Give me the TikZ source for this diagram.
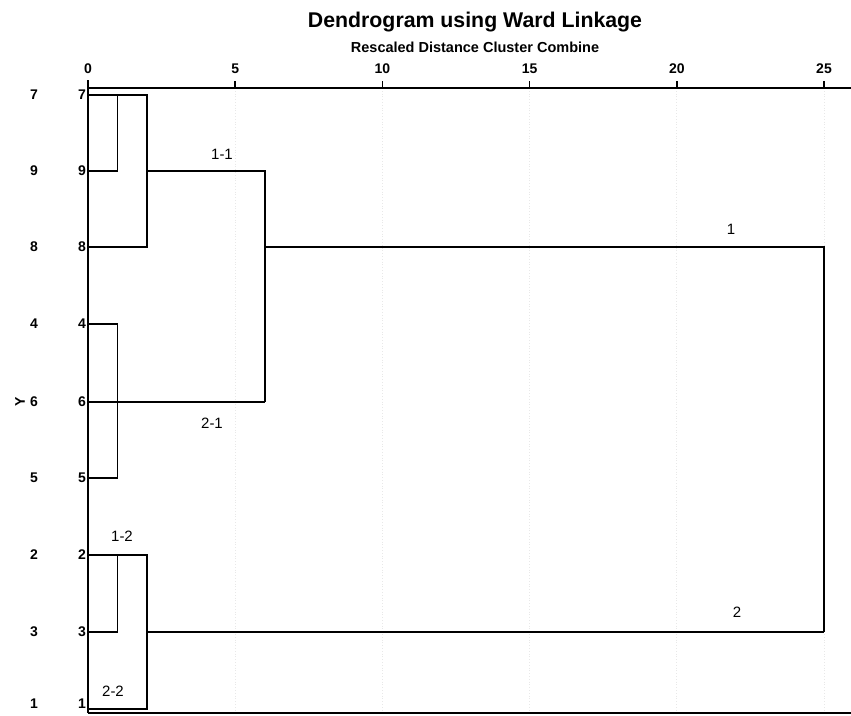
\documentclass[tikz,border=0pt]{standalone}
\usepackage{fontspec}
\setmainfont{Liberation Sans}
\begin{document}
\begin{tikzpicture}[x=1pt,y=-1pt,
  dline/.style={line width=1.8pt,line join=miter},
  axisline/.style={line width=1.5pt},
  grid/.style={gray!18,line width=0.8pt,dotted},
  leaflab/.style={font=\fontsize{14}{16}\selectfont\bfseries,inner sep=1pt},
  ticklab/.style={font=\fontsize{14}{16}\selectfont\bfseries,inner sep=1pt},
  clab/.style={font=\fontsize{15}{17}\selectfont,inner sep=1pt}]
\useasboundingbox (0,0) rectangle (851,715);
% title
\node[font=\fontsize{21.3}{25}\selectfont\bfseries] (title) at (475,22) {Dendrogram using Ward Linkage};
\node[font=\fontsize{14.5}{17}\selectfont\bfseries] (sub) at (475,47) {Rescaled Distance Cluster Combine};
% axis coordinates
\foreach \v/\n in {0/t0,5/t5,10/t10,15/t15,20/t20,25/t25}{
  \coordinate (\n) at ({88+\v*29.44},88);
  \node[ticklab] (\n lab) at ({88+\v*29.44},69) {\v};
}
\foreach \n in {t5,t10,t15,t20,t25}{
  \draw[grid] (\n) -- (\n |- 0,712);
  \draw[axisline] (\n) -- ++(0,-7);
}
\coordinate (axR) at (851,88);
\coordinate (bot) at (88,713);
\coordinate (botR) at (851,713);
\draw[axisline] (t0) -- (axR);
\draw[axisline] (88,80) -- (bot);
\draw[axisline] (bot) -- (botR);
% leaves
\foreach \k/\yy/\ty in {7/95/95,9/171/171,8/247/247,4/324/324,6/402/402,5/478/478,2/555/555,3/632/632,1/709/704}{
  \coordinate (L\k) at (88,\yy);
  \node[leaflab,anchor=east] (n\k) at (87,\ty) {\k};
  \node[leaflab] (o\k) at (34,\ty) {\k};
}
\node[leaflab,rotate=90] (ylab) at (20,402) {Y};
% merge coordinates
\coordinate (a79) at (117.4,95);
\coordinate (a79b) at (117.4,171);
\coordinate (b798) at (146.9,95);
\coordinate (b798b) at (146.9,247);
\coordinate (c1) at (146.9,171);
\coordinate (d1) at (264.6,171);
\coordinate (d2) at (264.6,402);
\coordinate (d1m) at (264.6,247);
\coordinate (e1) at (824,247);
\coordinate (e2) at (824,632);
\coordinate (a46) at (117.4,324);
\coordinate (a46b) at (117.4,478);
\coordinate (a23) at (117.4,555);
\coordinate (a23b) at (117.4,632);
\coordinate (b231) at (146.9,555);
\coordinate (b231b) at (146.9,709);
\coordinate (c2) at (146.9,632);
% cluster 7,9,8
\draw[dline] (L9) -- (a79b) -- (a79);
\draw[dline] (L7) -- (b798) -- (b798b) -- (L8);
\draw[dline] (c1) -- (d1) -- (d2);
% cluster 4,6,5
\draw[dline] (L4) -- (a46) -- (a46b) -- (L5);
\draw[dline] (L6) -- (d2);
% top merge
\draw[dline] (d1m) -- (e1) -- (e2);
% cluster 2,3,1
\draw[dline] (L3) -- (a23b) -- (a23);
\draw[dline] (L2) -- (b231) -- (b231b) -- (L1);
\draw[dline] (c2) -- (e2);
% cluster labels
\node[clab] (c11) at (222,154) {1-1};
\node[clab] (c21) at (212,423) {2-1};
\node[clab] (c12) at (122,536) {1-2};
\node[clab] (c22) at (113,691) {2-2};
\node[clab] (k1) at (731,229) {1};
\node[clab] (k2) at (737,612) {2};
\end{tikzpicture}
\end{document}
